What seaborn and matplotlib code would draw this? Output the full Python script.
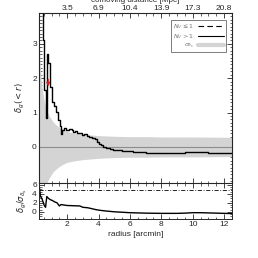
import numpy as np
import pandas as pd
import matplotlib
matplotlib.use("Agg")
import matplotlib.pyplot as plt
from matplotlib.ticker import MultipleLocator, FixedLocator
from matplotlib.lines import Line2D
import seaborn as sns

# ---- data ----
r_line = [0.22, 0.46, 0.54, 0.62, 0.70, 0.80, 0.92, 1.00, 1.06, 1.16, 1.30, 1.40,
          1.55, 1.62, 1.70, 1.80, 1.95, 2.10, 2.30, 2.40, 2.50, 2.65, 2.80, 2.95,
          3.10, 3.25, 3.40, 3.60, 3.80, 3.90, 4.00, 4.15, 4.30, 4.50, 4.70, 4.90,
          5.10, 5.30, 5.50, 5.70, 5.90, 6.20, 6.60, 7.00, 7.50, 8.00, 8.50, 9.00,
          9.50, 10.0, 10.5, 11.0, 11.5, 12.0, 12.5]
delta_g = [4.5, 3.1, 1.65, 0.84, 2.7, 2.45, 1.75, 1.6, 1.3, 1.2, 1.02, 0.78,
           0.6, 0.38, 0.5, 0.56, 0.5, 0.52, 0.5, 0.44, 0.47, 0.40, 0.42, 0.36,
           0.37, 0.33, 0.30, 0.25, 0.22, 0.15, 0.09, 0.05, 0.0, -0.03, -0.06, -0.08,
           -0.1, -0.09, -0.13, -0.12, -0.13, -0.16, -0.15, -0.18, -0.17, -0.19, -0.18, -0.17,
           -0.16, -0.15, -0.16, -0.17, -0.18, -0.19, -0.19]

r_band = [0.22, 0.30, 0.40, 0.50, 0.63, 0.75, 0.88, 1.0, 1.1, 1.3, 1.5, 1.75,
          2.0, 2.5, 3.0, 3.5, 4.0, 5.0, 6.0, 7.0, 8.0, 10.0, 12.5]
sigma = [3.0, 2.2, 1.7, 1.45, 1.15, 1.0, 0.88, 0.8, 0.73, 0.64, 0.57, 0.5,
         0.45, 0.4, 0.37, 0.35, 0.33, 0.31, 0.30, 0.30, 0.29, 0.29, 0.28]

r_ratio = [0.22, 0.30, 0.38, 0.46, 0.54, 0.62, 0.70, 0.80, 0.92, 1.06, 1.20, 1.35,
           1.50, 1.60, 1.80, 2.00, 2.36, 2.80, 3.00, 3.30, 3.50, 3.80, 4.05, 4.40,
           4.70, 5.00, 5.50, 6.00, 7.00, 8.00, 9.00, 9.50, 10.0, 10.5, 11.0, 12.0, 12.5]
ratio = [5.6, 3.4, 3.0, 2.2, 1.4, 1.0, 3.4, 3.0, 2.7, 2.5, 2.2, 2.0,
         1.3, 1.6, 1.5, 1.4, 1.35, 1.3, 1.0, 0.9, 0.75, 0.5, 0.35, 0.2,
         0.1, 0.0, -0.1, -0.2, -0.3, -0.35, -0.35, -0.3, -0.2, -0.2, -0.25, -0.35, -0.4]

main_yticks = [0, 1, 2, 3]
main_ylabels = ["0", "1", "2", "3"]
ratio_yticks = [0, 2, 4, 6]
ratio_ylabels = ["0", "2", "4", "6"]
top_ticks = [2, 4, 6, 8, 10, 12]
top_labels = ["3.5", "6.9", "10.4", "13.9", "17.3", "20.8"]
bottom_ticks = [2, 4, 6, 8, 10, 12]
bottom_labels = ["2", "4", "6", "8", "10", "12"]
ratio_threshold = 4.8

# ---- style ----
sns.set_style("ticks")
plt.rcParams['font.family'] = ['Liberation Sans', 'DejaVu Sans']
plt.rcParams['mathtext.fontset'] = 'dejavusans'

fig = plt.figure(figsize=(2.58, 2.58), dpi=100)
ax = fig.add_axes([0.151, 0.2907, 0.748, 0.659])
ax2 = fig.add_axes([0.151, 0.1512, 0.748, 0.1395])

df_line = pd.DataFrame({"r": r_line, "d": delta_g})
df_band = pd.DataFrame({"r": r_band, "s": sigma})
df_ratio = pd.DataFrame({"r": r_ratio, "q": ratio})

band_color = "#d4d4d4"
ax.fill_between(df_band["r"], -df_band["s"], df_band["s"], color=band_color, lw=0)
ax.axhline(0, color="#8c8c8c", lw=0.8)
sns.lineplot(data=df_line, x="r", y="d", ax=ax, color="black", lw=1.0,
             drawstyle="steps-post", estimator=None)
ax.annotate("", xy=(0.79, 1.68), xytext=(0.79, 2.05),
            arrowprops=dict(arrowstyle="-|>", color="#d62020", lw=0.9,
                            mutation_scale=5))

xlim = (0.2, 12.5)
ax.set_xlim(*xlim)
ax.set_ylim(-1.05, 3.9)
ax.set_yticks(main_yticks)
ax.set_yticklabels(main_ylabels)
ax.yaxis.set_minor_locator(MultipleLocator(0.1))
ax.set_xticks(bottom_ticks)
ax.set_xticklabels([])
ax.xaxis.set_minor_locator(MultipleLocator(0.5))
ax.set_xlabel("")
ax.set_ylabel(r"$\delta_g(<r)$", fontsize=6, labelpad=4)

# top axis: comoving distance
axt = ax.twiny()
axt.set_xlim(*xlim)
axt.set_xticks(top_ticks)
axt.set_xticklabels(top_labels)
axt.xaxis.set_minor_locator(MultipleLocator(0.5))
axt.tick_params(axis="x", which="major", direction="in", length=3.5, width=0.6,
                labelsize=6, pad=1)
axt.tick_params(axis="x", which="minor", direction="in", length=1.8, width=0.5)
fig.text(0.525, 0.999, "comoving distance [Mpc]", ha="center", va="center", fontsize=5.8)

# legend
handles = [Line2D([], [], color="black", lw=0.8, ls=(0, (5, 3))),
           Line2D([], [], color="black", lw=0.8),
           Line2D([], [], color=band_color, lw=3)]
labels = [r"$N_V\leq1$", r"$N_V>1$", r"$\sigma_{\delta_s}$"]
leg = ax.legend(handles, labels, loc="upper right", fontsize=4.5, frameon=True,
                fancybox=False, edgecolor="#444444", handlelength=4.2,
                borderpad=0.3, labelspacing=0.15, handletextpad=0.6,
                markerfirst=False, bbox_to_anchor=(0.985, 0.975))
leg.get_frame().set_linewidth(0.6)
for t in leg.get_texts():
    t.set_color("#777777")

# bottom panel
sns.lineplot(data=df_ratio, x="r", y="q", ax=ax2, color="black", lw=1.0, estimator=None)
ax2.axhline(ratio_threshold, color="black", lw=0.6, ls=(0, (5, 2, 1, 2)))
ax2.set_xlim(*xlim)
ax2.set_ylim(-1.6, 6.4)
ax2.set_yticks(ratio_yticks)
ax2.set_yticklabels(ratio_ylabels)
ax2.yaxis.set_minor_locator(MultipleLocator(0.5))
ax2.set_xticks(bottom_ticks)
ax2.set_xticklabels(bottom_labels)
ax2.xaxis.set_minor_locator(MultipleLocator(0.5))
ax2.set_xlabel("radius [arcmin]", fontsize=6, labelpad=2)
ax2.set_ylabel(r"$\delta_g/\sigma_{\delta_s}$", fontsize=6, labelpad=2)

for a in (ax, ax2):
    a.tick_params(which="major", direction="in", length=3.5, width=0.6,
                  labelsize=6, top=(a is ax2), right=True, pad=1.5)
    a.tick_params(which="minor", direction="in", length=1.8, width=0.5,
                  top=(a is ax2), right=True)
    for s in a.spines.values():
        s.set_linewidth(0.7)
        s.set_visible(True)
ax.tick_params(axis="x", which="both", top=False)

fig.savefig("out.png", dpi=100)
